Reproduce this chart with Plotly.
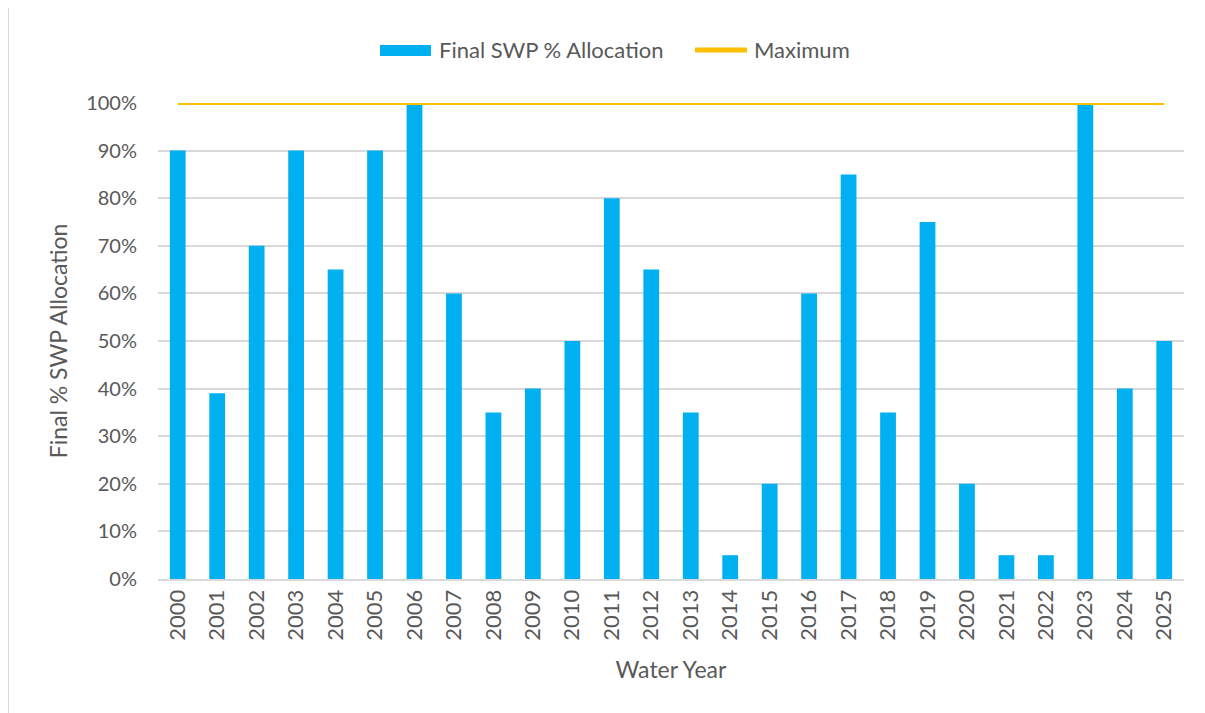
import plotly.graph_objects as go

years = [str(y) for y in range(2000, 2026)]
allocation = [90, 39, 70, 90, 65, 90, 100, 60, 35, 40, 50, 80, 65, 35, 5, 20, 60, 85, 35, 75, 20, 5, 5, 100, 40, 50]
maximum = [100] * len(years)
series_names = ["Final SWP % Allocation", "Maximum"]
series_colors = ["#00B0F0", "#FFC000"]

W, H = 1205, 713
L, T = 150, 95
pw, ph = 1026, 476
R, B = W - L - pw, H - T - ph


def px(xf):
    return (xf - L) / pw


def py(yf):
    return (T + ph - yf) / ph


fig = go.Figure()
fig.add_trace(go.Bar(x=years, y=allocation, name=series_names[0],
                     marker=dict(color=series_colors[0], line=dict(width=0)), width=0.4))
fig.add_trace(go.Scatter(x=years, y=maximum, name=series_names[1], mode="lines",
                         line=dict(color=series_colors[1], width=4)))

font_family = "Lato, 'Open Sans', sans-serif"
fig.update_layout(
    width=W, height=H,
    margin=dict(l=L, r=R, t=T, b=B),
    plot_bgcolor="white", paper_bgcolor="white",
    font=dict(family=font_family, color="#595959", size=20),
    showlegend=False,
    bargap=0.6,
)
fig.update_xaxes(type="category", tickangle=-90, tickfont=dict(size=22, color="#595959"),
                 showline=True, linecolor="#D9D9D9", linewidth=2, showgrid=False,
                 ticks="", title=dict(text="Water Year", font=dict(size=23, color="#595959"), standoff=22),
                 range=[-0.5, 25.5])
fig.update_yaxes(range=[0, 100], dtick=10, ticksuffix="%", showgrid=True, gridcolor="#D9D9D9", gridwidth=2,
                 zeroline=False, tickfont=dict(size=20, color="#595959"), ticks="outside", ticklen=16, tickcolor="white",
                 title=dict(text="Final % SWP Allocation", font=dict(size=23, color="#595959"), standoff=12))

# left border line of the chart area
fig.add_shape(type="line", xref="paper", yref="paper",
              x0=px(0), x1=px(0), y0=py(-5), y1=py(H),
              line=dict(color="#D9D9D9", width=2))

# legend (drawn to match wide swatches)
fig.add_shape(type="rect", xref="paper", yref="paper",
              x0=px(372), x1=px(423), y0=py(48), y1=py(37),
              fillcolor=series_colors[0], line=dict(width=0))
fig.add_annotation(xref="paper", yref="paper", x=px(429), y=py(42), text=series_names[0],
                   showarrow=False, xanchor="left", yanchor="middle",
                   font=dict(size=22, color="#595959"))
fig.add_shape(type="line", xref="paper", yref="paper",
              x0=px(687), x1=px(739), y0=py(42), y1=py(42),
              line=dict(color=series_colors[1], width=5))
fig.add_annotation(xref="paper", yref="paper", x=px(744), y=py(42), text=series_names[1],
                   showarrow=False, xanchor="left", yanchor="middle",
                   font=dict(size=22, color="#595959"))

fig.write_html("out.html")
